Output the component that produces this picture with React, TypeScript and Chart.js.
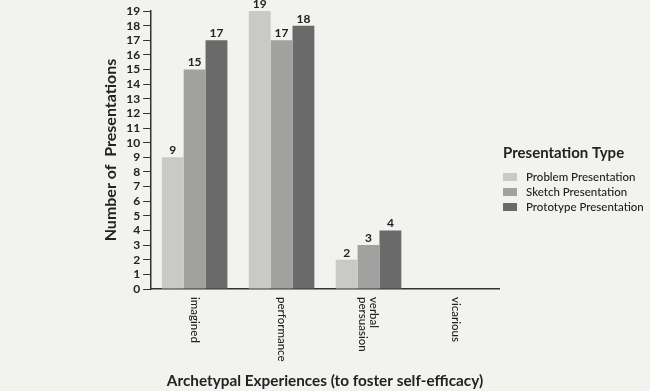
import React, { useEffect, useRef } from "react";
import { Chart, registerables } from "chart.js";

Chart.register(...registerables);

const categories: (string | string[])[] = ["imagined", "performance", ["verbal", "persuasion"], "vicarious"];
const problemValues: (number | null)[] = [9, 19, 2, null];
const sketchValues: (number | null)[] = [15, 17, 3, null];
const prototypeValues: (number | null)[] = [17, 18, 4, null];
const seriesNames = ["Problem Presentation", "Sketch Presentation", "Prototype Presentation"];
const seriesColors = ["#c9c9c7", "#a1a2a0", "#6a6a6a"];
const yTitle = "Number of  Presentations";
const xTitle = "Archetypal Experiences (to foster self-efficacy)";
const legendTitle = "Presentation Type";

const FONT = "Lato, 'Open Sans', sans-serif";
const BG = "#f2f2ee";
const INK = "#222222";

const customPlugin = {
  id: "custom",
  beforeDraw(chart: any) {
    const { ctx, width, height } = chart;
    ctx.save();
    ctx.fillStyle = BG;
    ctx.fillRect(0, 0, width, height);
    ctx.restore();
  },
  afterDraw(chart: any) {
    const { ctx, chartArea } = chart;
    const xScale = chart.scales.x;
    ctx.save();
    // value labels
    ctx.font = `bold 12px ${FONT}`;
    ctx.fillStyle = INK;
    ctx.textAlign = "center";
    ctx.textBaseline = "bottom";
    chart.data.datasets.forEach((ds: any, di: number) => {
      const meta = chart.getDatasetMeta(di);
      meta.data.forEach((el: any, i: number) => {
        const v = ds.data[i];
        if (v === null || v === undefined) return;
        ctx.fillText(String(v), el.x, el.y - 1);
      });
    });
    // x category labels rotated clockwise
    ctx.font = `500 11.5px ${FONT}`;
    ctx.fillStyle = INK;
    const labels = chart.data.labels as (string | string[])[];
    labels.forEach((lab, i) => {
      const lines = Array.isArray(lab) ? lab : [lab];
      const x = xScale.getPixelForValue(i);
      ctx.save();
      ctx.translate(x, chartArea.bottom + 8);
      ctx.rotate(Math.PI / 2);
      ctx.textAlign = "left";
      ctx.textBaseline = "middle";
      const lh = 11;
      lines.forEach((ln, j) => {
        ctx.fillText(ln, 0, (j - (lines.length - 1) / 2) * lh);
      });
      ctx.restore();
    });
    // x title
    ctx.font = `bold 15.3px ${FONT}`;
    ctx.fillStyle = INK;
    ctx.textAlign = "center";
    ctx.textBaseline = "middle";
    ctx.fillText(xTitle, 325, 381);
    // legend
    const lx = 503;
    ctx.textAlign = "left";
    ctx.font = `bold 15px ${FONT}`;
    ctx.fillText(legendTitle, lx, 153);
    ctx.font = `500 11.5px ${FONT}`;
    chart.data.datasets.forEach((ds: any, di: number) => {
      const cy = 177 + di * 15;
      ctx.fillStyle = ds.backgroundColor;
      ctx.fillRect(lx, cy - 4, 14, 8);
      ctx.fillStyle = INK;
      ctx.fillText(ds.label, lx + 23, cy);
    });
    ctx.restore();
  },
};

export default function App() {
  const ref = useRef<HTMLCanvasElement>(null);
  useEffect(() => {
    if (!ref.current) return;
    const data = [problemValues, sketchValues, prototypeValues];
    const chart = new Chart(ref.current, {
      type: "bar",
      data: {
        labels: categories,
        datasets: data.map((d, i) => ({
          label: seriesNames[i],
          data: d,
          backgroundColor: seriesColors[i],
          borderWidth: 0,
          categoryPercentage: 0.754,
          barPercentage: 1,
        })),
      },
      options: {
        animation: false,
        responsive: false,
        maintainAspectRatio: false,
        layout: { padding: { left: 101, top: 11, right: 151, bottom: 102 } },
        plugins: { legend: { display: false }, tooltip: { enabled: false } },
        scales: {
          x: {
            grid: { display: false, drawTicks: false },
            border: { display: true, color: "#333", width: 1.5 },
            ticks: { display: false },
          },
          y: {
            min: 0,
            max: 19,
            ticks: {
              stepSize: 1,
              autoSkip: false,
              color: INK,
              font: { family: FONT, size: 12, weight: "bold" },
              padding: 3,
            },
            grid: { display: true, drawOnChartArea: false, drawTicks: true, tickLength: 8, color: "#333" },
            border: { display: true, color: "#333", width: 1.5 },
            title: {
              display: true,
              text: yTitle,
              color: INK,
              font: { family: FONT, size: 16, weight: "bold" },
              padding: { top: 0, bottom: 3 },
            },
          },
        },
      },
      plugins: [customPlugin],
    });
    return () => chart.destroy();
  }, []);
  return (
    <div style={{ position: "fixed", left: 0, top: 0, width: 650, height: 391, background: BG }}>
      <canvas ref={ref} width={650} height={391} style={{ width: 650, height: 391 }} />
    </div>
  );
}
